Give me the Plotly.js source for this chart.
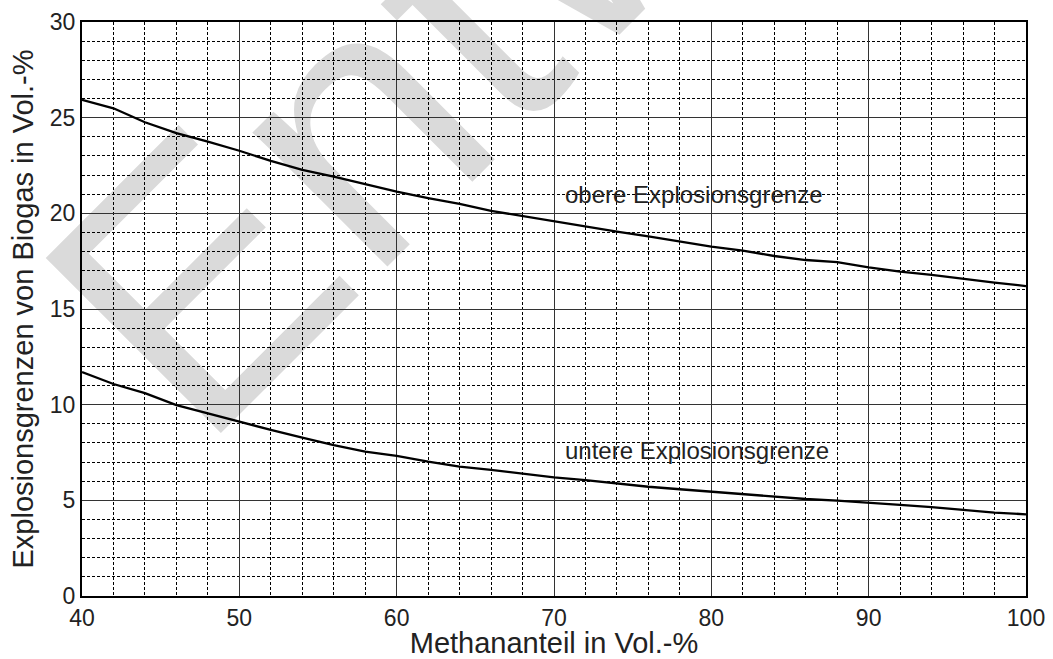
<!DOCTYPE html>
<html>
<head>
<meta charset="utf-8">
<script src="https://cdn.plot.ly/plotly-3.0.1.min.js"></script>
<style>html,body{margin:0;padding:0;background:#fff}#chart{width:1053px;height:659px}</style>
</head>
<body>
<div id="chart"></div>
<script>
// Methananteil in Vol.-%
const methane = [40,42,44,46,48,50,52,54,56,58,60,62,64,66,68,70,72,74,76,78,80,82,84,86,88,90,92,94,96,98,100];
// obere Explosionsgrenze (Vol.-%)
const upperLimit = [25.93,25.49,24.76,24.19,23.75,23.27,22.74,22.27,21.92,21.52,21.13,20.79,20.49,20.13,19.86,19.57,19.3,19.04,18.8,18.52,18.26,18.05,17.77,17.56,17.45,17.18,16.95,16.78,16.57,16.38,16.2];
// untere Explosionsgrenze (Vol.-%)
const lowerLimit = [11.7,11.08,10.6,9.98,9.55,9.11,8.68,8.28,7.89,7.54,7.32,7.02,6.76,6.59,6.41,6.2,6.06,5.89,5.71,5.58,5.45,5.33,5.19,5.07,4.98,4.88,4.76,4.64,4.5,4.36,4.27];
const xTicks = [40,50,60,70,80,90,100];
const yTicks = [0,5,10,15,20,25,30];
const upperLabel = "obere Explosionsgrenze";
const lowerLabel = "untere Explosionsgrenze";
const xTitle = "Methananteil in Vol.-%";
const yTitle = "Explosionsgrenzen von Biogas in Vol.-%";
const watermark = "Entwurf";

const font = "Liberation Sans, Arial, sans-serif";
const traces = [
  {x: methane, y: upperLimit, mode: "lines", line: {color: "#000", width: 2.3}, hoverinfo: "skip"},
  {x: methane, y: lowerLimit, mode: "lines", line: {color: "#000", width: 2.3}, hoverinfo: "skip"}
];
const axisBase = {
  showline: true, linecolor: "#000", linewidth: 2, mirror: true,
  showgrid: true, gridcolor: "#333", gridwidth: 1,
  zeroline: false, ticks: "", tickfont: {family: font, size: 23, color: "#222"}
};
const layout = {
  width: 1053, height: 659,
  margin: {l: 82, r: 27, t: 22, b: 63},
  paper_bgcolor: "#fff", plot_bgcolor: "rgba(0,0,0,0)",
  showlegend: false,
  font: {family: font, color: "#222"},
  xaxis: Object.assign({}, axisBase, {
    range: [40, 100], tickvals: xTicks, ticktext: xTicks.map(String),
    minor: {dtick: 2, tick0: 40, showgrid: true, gridcolor: "#000", gridwidth: 1, griddash: "3px,2px"},
    title: {text: xTitle, font: {family: font, size: 29, color: "#222"}, standoff: 0}
  }),
  yaxis: Object.assign({}, axisBase, {
    range: [0, 30], tickvals: yTicks, ticktext: yTicks.map(String),
    minor: {dtick: 1, tick0: 0, showgrid: true, gridcolor: "#000", gridwidth: 1, griddash: "3px,2px"},
    title: {text: yTitle, font: {family: font, size: 29, color: "#222"}, standoff: 8}
  }),
  annotations: [
    {x: 70.6, y: 21.0, xref: "x", yref: "y", text: upperLabel, showarrow: false, xanchor: "left", yanchor: "middle",
     font: {family: font, size: 24, color: "#222"}},
    {x: 70.6, y: 7.6, xref: "x", yref: "y", text: lowerLabel, showarrow: false, xanchor: "left", yanchor: "middle",
     font: {family: font, size: 24, color: "#222"}}
  ],
  shapes: [
    {type: "rect", xref: "paper", yref: "paper", x0: 0.393, x1: 0.533, y0: 1.10, y1: 1.29, layer: "below",
     line: {width: 0}, fillcolor: "rgba(0,0,0,0)",
     label: {text: watermark, textangle: -45, textposition: "middle center",
             font: {family: font, size: 360, color: "#dadada"}}}
  ]
};
Plotly.newPlot("chart", traces, layout, {staticPlot: true, displayModeBar: false});
</script>
</body>
</html>
